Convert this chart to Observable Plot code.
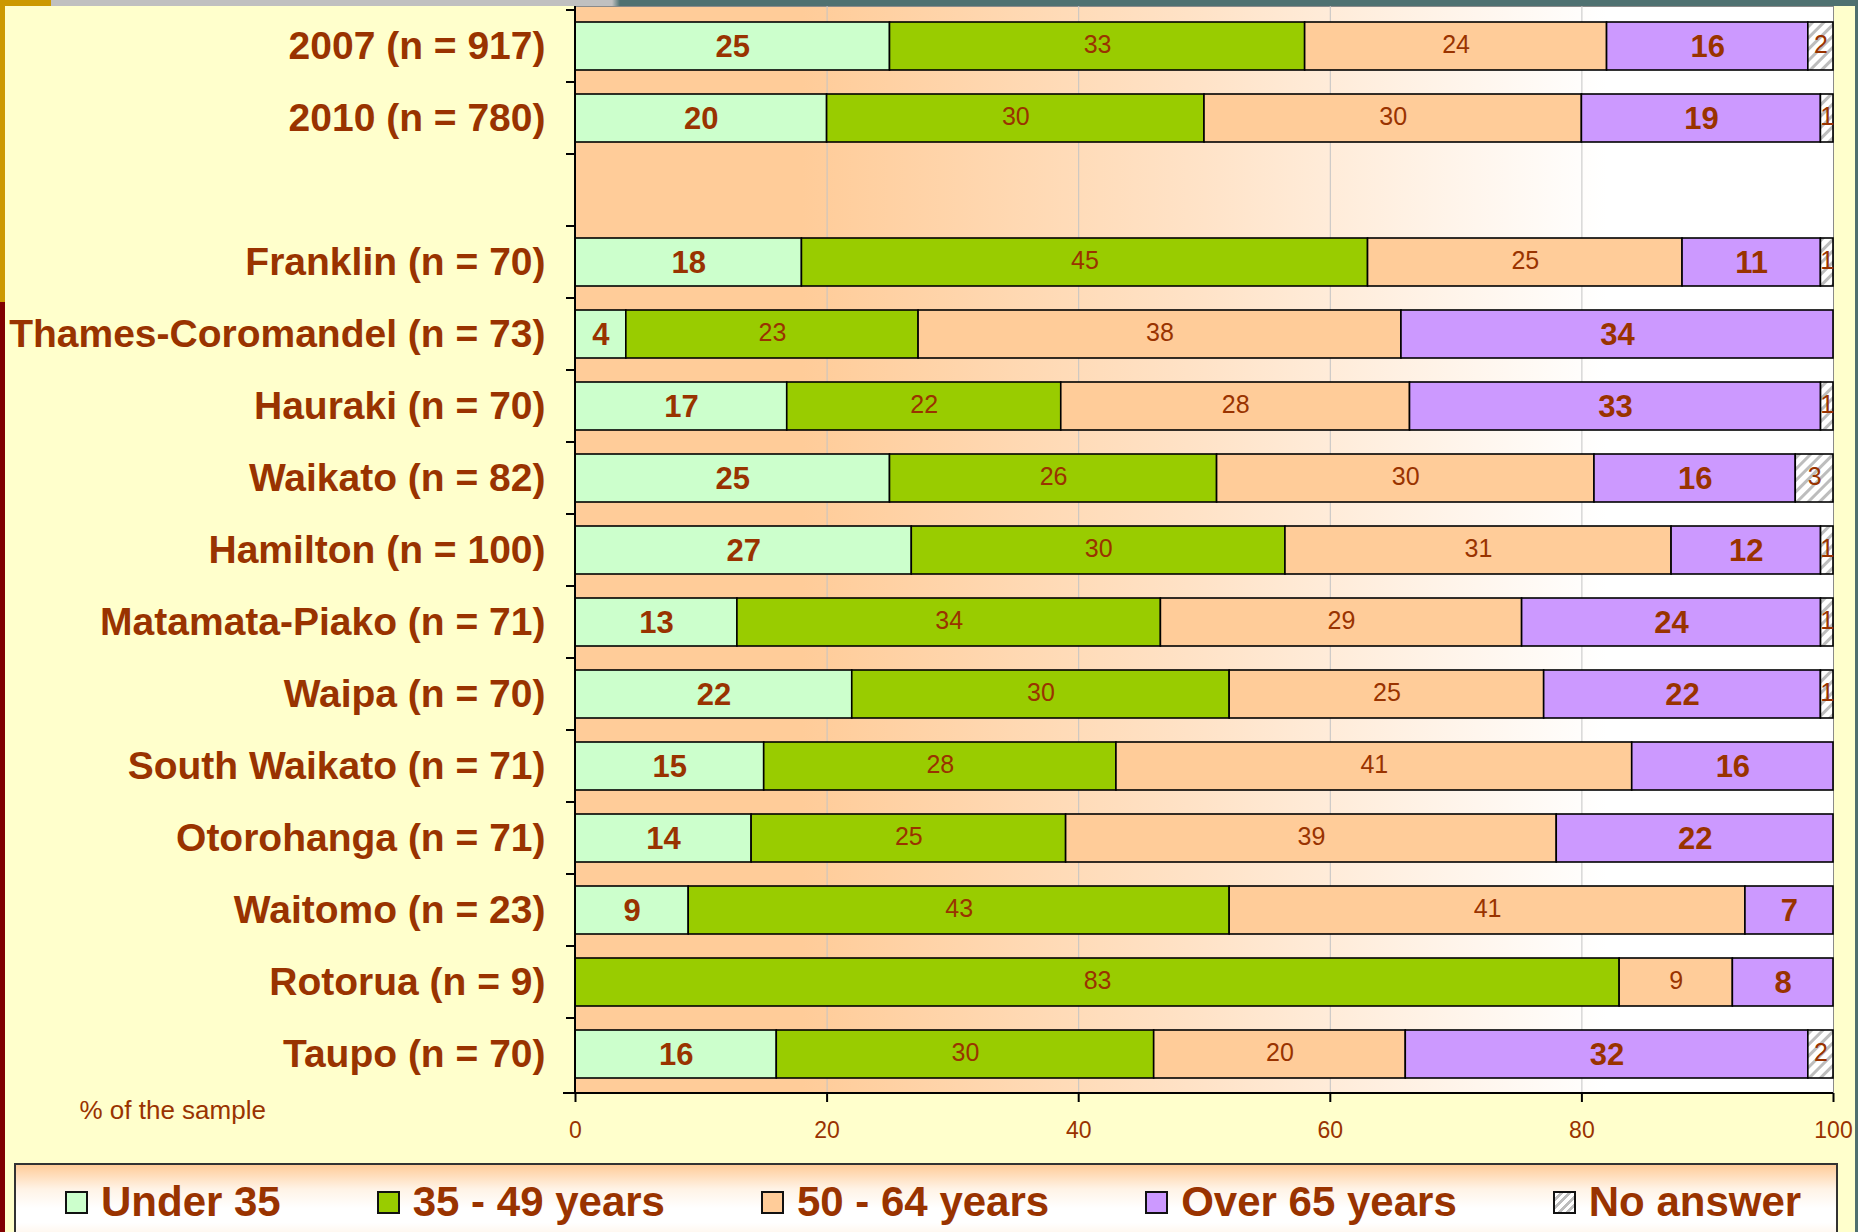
<!DOCTYPE html>
<html><head><meta charset="utf-8">
<script src="https://cdn.jsdelivr.net/npm/d3@7"></script>
<script src="https://cdn.jsdelivr.net/npm/@observablehq/plot@0.6"></script>
<style>
html,body{margin:0;padding:0;background:#FFFFCC;}
body{width:1858px;height:1232px;position:relative;overflow:hidden;font-family:"Liberation Sans",Arial,sans-serif;}
#chart{position:absolute;left:0;top:0;}
.deco{position:absolute;}
#topstrip{left:0;top:0;width:1858px;height:6px;background:linear-gradient(to right,#CC9900 0,#CC9900 51px,#C0C0C0 51px,#C0C0C0 612px,#4F7171 620px,#4F7171 100%);}
#leftgold{left:0;top:0;width:5px;height:302px;background:#CC9900;}
#leftred{left:0;top:302px;width:5px;height:930px;background:#800000;}
#rightline{left:1855px;top:0;width:3px;height:1232px;background:#4F6F6F;}
#legend{position:absolute;left:14px;top:1163px;width:1824px;height:100px;border:2px solid #333;box-sizing:border-box;
  background:linear-gradient(to bottom,#FFCC99 0%,#FFF3E6 25%,#FFFFFF 45%,#FFFFFF 60%,#FFE2C4 100%);
  display:flex;align-items:flex-start;padding-left:49px;padding-top:13px;gap:96px;}
.item{display:flex;align-items:center;white-space:nowrap;}
.sw{width:19px;height:19px;border:2px solid #111;margin-right:13px;}
.lab{font-weight:bold;font-size:42px;color:#993300;line-height:48px;}
#chart svg g[aria-label="y-axis tick label"] text{font-weight:bold;}
</style></head><body>
<div id="chart"></div>
<div id="legend"></div>
<div class="deco" id="topstrip"></div>
<div class="deco" id="leftgold"></div>
<div class="deco" id="leftred"></div>
<div class="deco" id="rightline"></div>
<script>
const categories = ["2007 (n = 917)","2010 (n = 780)"," ","Franklin (n = 70)","Thames-Coromandel (n = 73)","Hauraki (n = 70)","Waikato (n = 82)","Hamilton (n = 100)","Matamata-Piako (n = 71)","Waipa (n = 70)","South Waikato (n = 71)","Otorohanga (n = 71)","Waitomo (n = 23)","Rotorua (n = 9)","Taupo (n = 70)"];
const ageGroups = ["Under 35","35 - 49 years","50 - 64 years","Over 65 years","No answer"];
const under35   = [25,20,null,18, 4,17,25,27,13,22,15,14, 9, 0,16];
const age35to49 = [33,30,null,45,23,22,26,30,34,30,28,25,43,83,30];
const age50to64 = [24,30,null,25,38,28,30,31,29,25,41,39,41, 9,20];
const over65    = [16,19,null,11,34,33,16,12,24,22,16,22, 7, 8,32];
const noAnswer  = [ 2, 1,null, 1, 0, 1, 3, 1, 1, 1, 0, 0, 0, 0, 2];
const colors = ["#CCFFCC","#99CC00","#FFCC99","#CC99FF","url(#hatch)"];
const xTicks = [0,0.2,0.4,0.6,0.8,1];
const axisNote = "% of the sample";

const series = [under35, age35to49, age50to64, over65, noAnswer];
const rows = [];
categories.forEach((c,i) => ageGroups.forEach((g,j) => {
  const v = series[j][i];
  if (v) rows.push({category:c, age:g, value:v});
}));
const boldGroups = new Set(["Under 35","Over 65 years"]);
const textColor = "#993300";

function edges(index, scales, values, dim) {
  const y = scales.y;
  const step = y.step(), bw = y.bandwidth();
  const g = d3.create("svg:g");
  const x0 = dim.marginLeft, yb = dim.height - dim.marginBottom, yt = dim.marginTop;
  const bounds = categories.map(c => y(c) - (step - bw)/2);
  bounds.push(yb);
  for (const b of bounds) g.append("line").attr("x1", x0-9).attr("x2", x0).attr("y1", b).attr("y2", b).attr("stroke","#000").attr("stroke-width",2);
  g.append("line").attr("x1", x0).attr("x2", x0).attr("y1", yt).attr("y2", yb).attr("stroke","#000").attr("stroke-width",2);
  g.append("line").attr("x1", x0-12).attr("x2", dim.width - dim.marginRight).attr("y1", yb).attr("y2", yb).attr("stroke","#000").attr("stroke-width",2);
  return g.node();
}

const chart = Plot.plot({
  width: 1858, height: 1160,
  marginTop: 6, marginBottom: 67, marginLeft: 575, marginRight: 25,
  style: {background:"transparent", color:textColor, fontFamily:"'Liberation Sans', Arial, sans-serif", overflow:"visible"},
  x: {domain:[0,1]},
  y: {domain: categories, paddingInner: 0.34, paddingOuter: 0.17},
  color: {domain: ageGroups, range: colors},
  marks: [
    Plot.frame({fill:"url(#bggrad)", stroke:"#8a8a8a", strokeWidth:1}),
    Plot.gridX({ticks:[0.2,0.4,0.6,0.8], stroke:"#c4c4c4", strokeOpacity:1, strokeWidth:1}),
    Plot.barX(rows, Plot.stackX({offset:"normalize", x:"value", y:"category", fill:"age", stroke:"#000", strokeWidth:1.6})),
    Plot.text(rows, Plot.stackX({offset:"normalize", x:"value", y:"category",
      text: d => boldGroups.has(d.age) ? String(d.value) : "", fontWeight:"bold", fontSize:31, fill:textColor, dy:1})),
    Plot.text(rows, Plot.stackX({offset:"normalize", x:"value", y:"category",
      text: d => boldGroups.has(d.age) ? "" : String(d.value), fontSize:25, fill:textColor, dy:-2})),
    Plot.axisY({tickSize:0, tickPadding:30, fontSize:39, fontWeight:"bold", fill:textColor, label:null}),
    Plot.axisX({ticks:xTicks, tickFormat:d => Math.round(d*100), tickSize:9, tickPadding:19, fontSize:23, stroke:"#000", strokeWidth:2, fill:textColor, label:null}),
    Plot.text([axisNote], {frameAnchor:"bottom-left", dx:-496, dy:17, textAnchor:"start", lineAnchor:"middle", fontSize:26, fill:textColor}),
    edges
  ]
});

const defs = d3.select(chart).insert("defs", ":first-child");
const lg = defs.append("linearGradient").attr("id","bggrad").attr("x1","0").attr("x2","1").attr("y1","0").attr("y2","0");
lg.append("stop").attr("offset","0").attr("stop-color","#FFCC99");
lg.append("stop").attr("offset","0.18").attr("stop-color","#FFCC99");
lg.append("stop").attr("offset","0.5").attr("stop-color","#FFE3C8");
lg.append("stop").attr("offset","0.82").attr("stop-color","#FFFFFF");
lg.append("stop").attr("offset","1").attr("stop-color","#FFFFFF");
const pat = defs.append("pattern").attr("id","hatch").attr("patternUnits","userSpaceOnUse")
  .attr("width",8).attr("height",8).attr("patternTransform","rotate(45)");
pat.append("rect").attr("width",8).attr("height",8).attr("fill","#FFFFFF");
pat.append("rect").attr("width",3).attr("height",8).attr("fill","#BDBDBD");

document.getElementById("chart").append(chart);

const legend = d3.select("#legend");
ageGroups.forEach((g,i) => {
  const it = legend.append("div").attr("class","item");
  const sw = it.append("div").attr("class","sw");
  if (colors[i].startsWith("url")) sw.style("background","repeating-linear-gradient(135deg,#FFFFFF 0 3px,#BDBDBD 3px 6px)");
  else sw.style("background", colors[i]);
  it.append("div").attr("class","lab").text(g);
});
</script>
</body></html>
